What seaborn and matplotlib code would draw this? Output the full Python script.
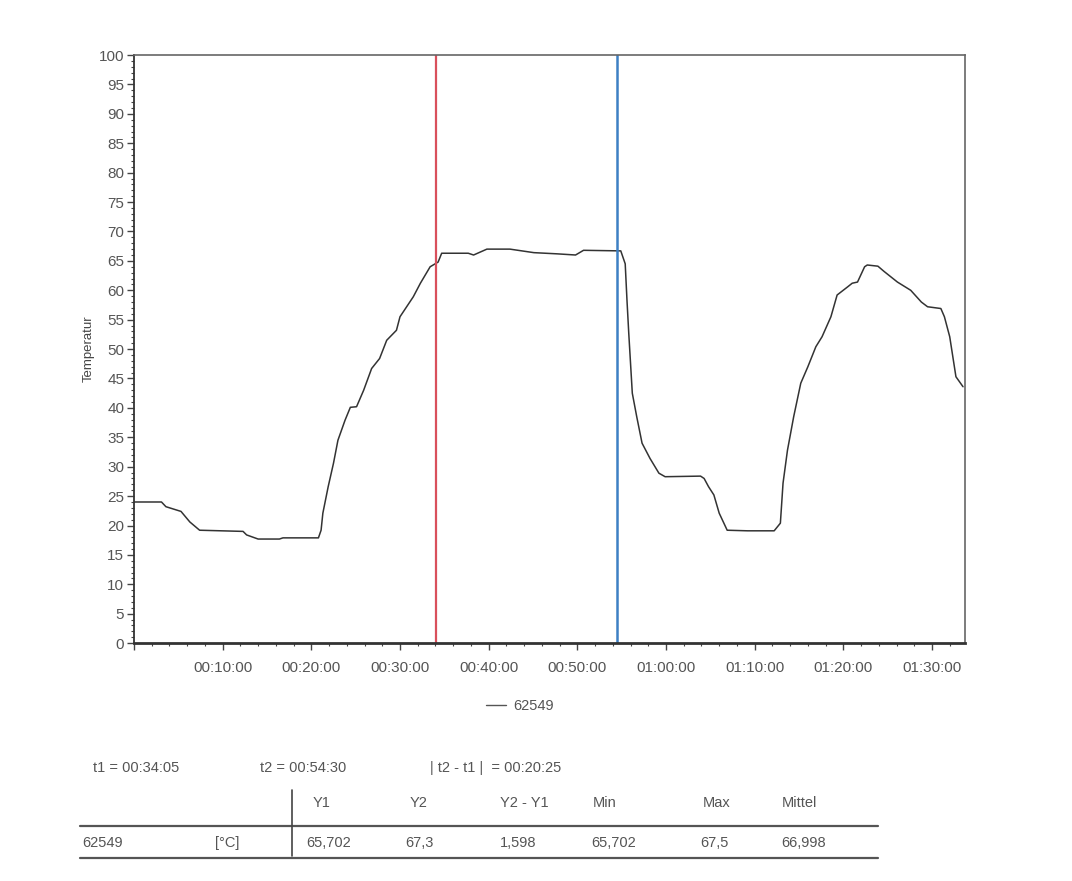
import numpy as np
import pandas as pd
import matplotlib
matplotlib.use("Agg")
import matplotlib.pyplot as plt
from matplotlib.ticker import MultipleLocator, FuncFormatter
from matplotlib.lines import Line2D
import seaborn as sns

# time in minutes, temperature
minutes = [0, 3.1, 3.6, 5.3, 6.3, 7.4, 12.3, 12.7, 14.0, 16.4, 16.8, 20.8, 21.1,
           21.3, 21.9, 22.5, 23.0, 23.8, 24.4, 25.1, 25.9, 26.8, 27.7, 28.5, 29.6,
           30.0, 31.5, 32.3, 33.4, 34.3, 34.7, 37.7, 38.1, 38.3, 39.8, 42.4, 45.1,
           47.7, 49.8, 50.7, 54.9, 55.4, 55.6, 55.8, 56.2, 56.7, 57.3, 58.2, 59.2,
           59.9, 63.9, 64.3, 64.8, 65.4, 66.0, 66.9, 69.2, 72.2, 72.9, 73.2, 73.7,
           74.4, 75.2, 76.0, 76.9, 77.6, 78.6, 79.3, 80.5, 81.0, 81.6, 82.4, 82.7,
           83.9, 84.6, 86.1, 87.6, 88.8, 89.5, 91.0, 91.4, 92.0, 92.7, 93.5]
temps = [24.0, 24.0, 23.2, 22.4, 20.6, 19.2, 19.0, 18.4, 17.7, 17.7, 17.9, 17.9, 19.2,
         22.1, 26.6, 30.6, 34.5, 37.9, 40.1, 40.2, 43.0, 46.7, 48.4, 51.5, 53.2,
         55.5, 58.9, 61.2, 64.0, 64.8, 66.3, 66.3, 66.1, 66.0, 67.0, 67.0, 66.4,
         66.2, 66.0, 66.8, 66.7, 64.5, 58.3, 52.7, 42.5, 38.5, 34.0, 31.4, 28.9,
         28.3, 28.4, 28.0, 26.6, 25.2, 22.1, 19.2, 19.1, 19.1, 20.4, 27.2, 32.8,
         38.5, 44.2, 47.0, 50.4, 52.1, 55.5, 59.2, 60.6, 61.2, 61.4, 64.0, 64.3,
         64.1, 63.2, 61.4, 60.0, 58.0, 57.2, 56.9, 55.5, 52.1, 45.3, 43.6]

series_name = "62549"
t1, t2 = 34 + 5 / 60, 54.5
t1_label, t2_label, dt_label = "00:34:05", "00:54:30", "00:20:25"

col_headers = ["Y1", "Y2", "Y2 - Y1", "Min", "Max", "Mittel"]
row_values = ["65,702", "67,3", "1,598", "65,702", "67,5", "66,998"]
unit = "[°C]"

df = pd.DataFrame({"t": minutes, "temp": temps})

sns.set_style("white")
plt.rcParams["font.family"] = ["Liberation Sans", "DejaVu Sans"]
txt = "#555555"

fig = plt.figure(figsize=(10.72, 8.81), dpi=100)
ax = fig.add_axes([0.125, 0.270, 0.775, 0.6675])

sns.lineplot(data=df, x="t", y="temp", ax=ax, color="#333333", linewidth=1.1)
ax.axvline(t1, color="#d9505c", linewidth=1.6)
ax.axvline(t2, color="#3d80c4", linewidth=1.8)

ax.set_xlim(0, 93.7)
ax.set_ylim(0, 100)
ax.yaxis.set_major_locator(MultipleLocator(5))
ax.yaxis.set_minor_locator(MultipleLocator(1))
ax.xaxis.set_major_locator(MultipleLocator(10))
ax.xaxis.set_minor_locator(MultipleLocator(2))


def hms(v, pos):
    if v <= 0:
        return ""
    m = int(round(v))
    return f"{m // 60:02d}:{m % 60:02d}:00"


ax.xaxis.set_major_formatter(FuncFormatter(hms))
ax.tick_params(axis="both", which="major", direction="out", length=5, width=1,
               color="#444444", labelsize=11, labelcolor=txt, left=True, bottom=True)
ax.tick_params(axis="both", which="minor", direction="out", length=2.5, width=0.8,
               color="#444444", left=True, bottom=True)
ax.tick_params(axis="x", pad=8)
ax.tick_params(axis="y", pad=2)
ax.set_xlabel("")
ax.set_ylabel("Temperatur", fontsize=9.5, color="#444444", labelpad=3)

for side in ["top", "right"]:
    ax.spines[side].set_color("#666666")
    ax.spines[side].set_linewidth(1.2)
ax.spines["left"].set_color("#333333")
ax.spines["left"].set_linewidth(1.3)
ax.spines["bottom"].set_color("#333333")
ax.spines["bottom"].set_linewidth(2.0)

handle = Line2D([], [], color="#555555", linewidth=1.0)
fig.legend([handle], [series_name], loc="center", bbox_to_anchor=(0.485, 0.199),
           frameon=False, fontsize=10.5, labelcolor=txt, handlelength=1.4,
           handletextpad=0.5)

# cursor readout below the chart
fig.text(0.0868, 0.128, f"t1 = {t1_label}", fontsize=10.5, color=txt, va="center")
fig.text(0.2425, 0.128, f"t2 = {t2_label}", fontsize=10.5, color=txt, va="center")
fig.text(0.401, 0.128, f"| t2 - t1 |  = {dt_label}", fontsize=10.5, color=txt, va="center")

header_x = [0.292, 0.3825, 0.466, 0.553, 0.656, 0.729]
value_x = [0.2854, 0.378, 0.466, 0.552, 0.653, 0.729]
for x, h in zip(header_x, col_headers):
    fig.text(x, 0.0885, h, fontsize=10.5, color=txt, va="center")
fig.text(0.0765, 0.0431, series_name, fontsize=10.5, color=txt, va="center")
fig.text(0.2006, 0.0431, unit, fontsize=10.5, color=txt, va="center")
for x, v in zip(value_x, row_values):
    fig.text(x, 0.0431, v, fontsize=10.5, color=txt, va="center")

fig.add_artist(Line2D([0.0746, 0.819], [0.0624, 0.0624], color="#555555", linewidth=1.6))
fig.add_artist(Line2D([0.0746, 0.819], [0.0261, 0.0261], color="#555555", linewidth=1.6))
fig.add_artist(Line2D([0.2724, 0.2724], [0.028, 0.1033], color="#444444", linewidth=1.2))

fig.savefig("out.png", dpi=100, facecolor="white")
